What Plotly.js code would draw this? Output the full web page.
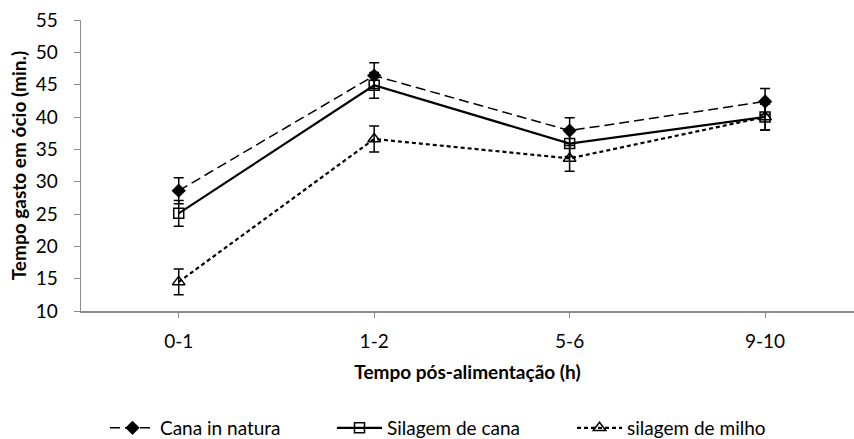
<!DOCTYPE html>
<html>
<head>
<meta charset="utf-8">
<script src="https://cdn.plot.ly/plotly-3.0.1.min.js"></script>
<style>html,body{margin:0;padding:0;background:#fff;}#chart{width:854px;height:439px;}</style>
</head>
<body>
<div id="chart"></div>
<script>
const categories = ["0-1", "1-2", "5-6", "9-10"];
const canaInNatura = [28.6, 46.4, 37.9, 42.4];
const canaInNaturaErr = [2.0, 2.0, 2.0, 2.0];
const silagemCana = [25.1, 44.9, 35.9, 40.0];
const silagemCanaErr = [2.0, 2.0, 2.0, 2.0];
const silagemMilho = [14.5, 36.6, 33.6, 40.0];
const silagemMilhoErr = [2.0, 2.0, 2.0, 2.0];
const seriesNames = ["Cana in natura", "Silagem de cana", "silagem de milho"];

const idx = categories.map((c, i) => i);
const font = "Lato, 'Open Sans', sans-serif";
const fs = 19;

function errY(arr) {
  return {type: "data", array: arr, visible: true, color: "#000", thickness: 1.5, width: 5};
}

const traces = [
  {
    x: idx, y: canaInNatura, name: seriesNames[0], type: "scatter", mode: "lines+markers",
    legend: "legend",
    line: {color: "#000", width: 1.5, dash: "10px,5px"},
    marker: {symbol: "diamond", size: 11, color: "#000"},
    error_y: errY(canaInNaturaErr)
  },
  {
    x: idx, y: silagemCana, name: seriesNames[1], type: "scatter", mode: "lines+markers",
    legend: "legend2",
    line: {color: "#000", width: 2.2},
    marker: {symbol: "square-open", size: 10, color: "#000", line: {width: 1.5}},
    error_y: errY(silagemCanaErr)
  },
  {
    x: idx, y: silagemMilho, name: seriesNames[2], type: "scatter", mode: "lines+markers",
    legend: "legend3",
    line: {color: "#000", width: 2.2, dash: "4px,3px"},
    marker: {symbol: "triangle-up-open", size: 11, color: "#000", line: {width: 1.5}},
    error_y: errY(silagemMilhoErr)
  }
];

function leg(x) {
  return {
    orientation: "h", x: x, xanchor: "left", y: -0.402, yanchor: "middle",
    itemwidth: 45,
    font: {family: font, size: fs, color: "#000"},
    bgcolor: "rgba(0,0,0,0)", borderwidth: 0
  };
}

const layout = {
  width: 854, height: 439,
  margin: {l: 81, r: 0, t: 20, b: 128, autoexpand: false},
  paper_bgcolor: "#fff", plot_bgcolor: "#fff",
  font: {family: font, size: fs, color: "#000"},
  showlegend: true,
  xaxis: {
    range: [-0.5, 3.455],
    tickvals: idx, ticktext: categories,
    showgrid: false, zeroline: false,
    showline: true, linecolor: "#8c8c8c", linewidth: 1.5,
    ticks: "outside", ticklen: 5, tickcolor: "#8c8c8c", tickwidth: 1,
    ticklabelstandoff: 8,
    tickfont: {family: font, size: fs, color: "#000"},
    title: {text: "<b>Tempo pós-alimentação (h)</b>", font: {family: font, size: fs, color: "#000"}, standoff: 14}
  },
  yaxis: {
    range: [10, 55], dtick: 5, tick0: 10,
    showgrid: false, zeroline: false,
    showline: true, linecolor: "#8c8c8c", linewidth: 1.5,
    ticks: "outside", ticklen: 6, tickcolor: "#8c8c8c", tickwidth: 1,
    ticklabelstandoff: 12,
    tickfont: {family: font, size: fs, color: "#000"},
    title: {text: "<b>Tempo gasto em ócio (min.)</b>", font: {family: font, size: fs, color: "#000"}, standoff: 4}
  },
  legend: leg(0.031),
  legend2: leg(0.3247),
  legend3: leg(0.6352)
};

Plotly.newPlot("chart", traces, layout, {displayModeBar: false, staticPlot: true});
</script>
</body>
</html>
